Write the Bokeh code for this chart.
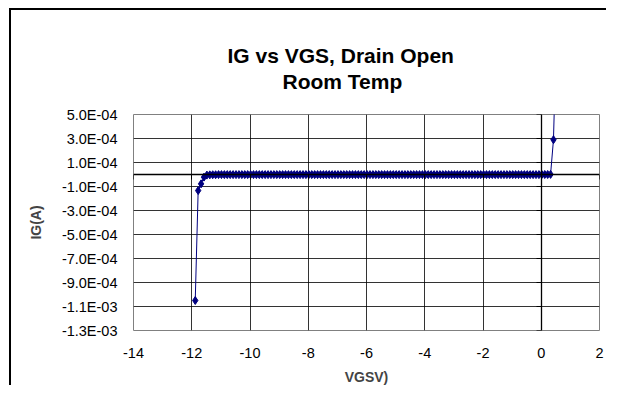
from bokeh.plotting import figure
from bokeh.models import FixedTicker, LinearAxis, Range1d, Title
from bokeh.embed import file_html
from bokeh.resources import INLINE

# ---- data ----
x_ticks = [-14, -12, -10, -8, -6, -4, -2, 0, 2]
x_tick_labels = ["-14", "-12", "-10", "-8", "-6", "-4", "-2", "0", "2"]
y_ticks = [5e-4, 3e-4, 1e-4, -1e-4, -3e-4, -5e-4, -7e-4, -9e-4, -1.1e-3, -1.3e-3]
y_tick_labels = ["5.0E-04", "3.0E-04", "1.0E-04", "-1.0E-04", "-3.0E-04",
                 "-5.0E-04", "-7.0E-04", "-9.0E-04", "-1.1E-03", "-1.3E-03"]

vgs = [
    -11.88, -11.78, -11.68, -11.58, -11.48, -11.38, -11.28, -11.18, -11.08, -10.98,
    -10.88, -10.78, -10.68, -10.58, -10.48, -10.38, -10.28, -10.18, -10.08, -9.98,
    -9.88, -9.78, -9.68, -9.58, -9.48, -9.38, -9.28, -9.18, -9.08, -8.98,
    -8.88, -8.78, -8.68, -8.58, -8.48, -8.38, -8.28, -8.18, -8.08, -7.98,
    -7.88, -7.78, -7.68, -7.58, -7.48, -7.38, -7.28, -7.18, -7.08, -6.98,
    -6.88, -6.78, -6.68, -6.58, -6.48, -6.38, -6.28, -6.18, -6.08, -5.98,
    -5.88, -5.78, -5.68, -5.58, -5.48, -5.38, -5.28, -5.18, -5.08, -4.98,
    -4.88, -4.78, -4.68, -4.58, -4.48, -4.38, -4.28, -4.18, -4.08, -3.98,
    -3.88, -3.78, -3.68, -3.58, -3.48, -3.38, -3.28, -3.18, -3.08, -2.98,
    -2.88, -2.78, -2.68, -2.58, -2.48, -2.38, -2.28, -2.18, -2.08, -1.98,
    -1.88, -1.78, -1.68, -1.58, -1.48, -1.38, -1.28, -1.18, -1.08, -0.98,
    -0.88, -0.78, -0.68, -0.58, -0.48, -0.38, -0.28, -0.18, -0.08, 0.02,
    0.12, 0.22, 0.32, 0.42, 0.52,
]
ig = [
    -1.05e-3, -1.34e-4, -7.8e-5, -2.2e-5, -5e-6, -3e-6, -2e-6, -2e-6, -1e-6, -1e-6,
    -1e-6, -1e-6, -1e-6, -1e-6, -1e-6, -1e-6, -1e-6, -1e-6, -1e-6, -1e-6,
    -1e-6, -1e-6, -1e-6, -1e-6, -1e-6, -1e-6, -1e-6, -1e-6, -1e-6, -1e-6,
    -1e-6, -1e-6, -1e-6, -1e-6, -1e-6, -1e-6, -1e-6, -1e-6, -1e-6, -1e-6,
    -1e-6, -1e-6, -1e-6, -1e-6, -1e-6, -1e-6, -1e-6, -1e-6, -1e-6, -1e-6,
    -1e-6, -1e-6, -1e-6, -1e-6, -1e-6, -1e-6, -1e-6, -1e-6, -1e-6, -1e-6,
    -1e-6, -1e-6, -1e-6, -1e-6, -1e-6, -1e-6, -1e-6, -1e-6, -1e-6, -1e-6,
    -1e-6, -1e-6, -1e-6, -1e-6, -1e-6, -1e-6, -1e-6, -1e-6, -1e-6, -1e-6,
    -1e-6, -1e-6, -1e-6, -1e-6, -1e-6, -1e-6, -1e-6, -1e-6, -1e-6, -1e-6,
    -1e-6, -1e-6, -1e-6, -1e-6, -1e-6, -1e-6, -1e-6, -1e-6, -1e-6, -1e-6,
    -1e-6, -1e-6, -1e-6, -1e-6, -1e-6, -1e-6, -1e-6, -1e-6, -1e-6, -1e-6,
    -1e-6, -1e-6, -1e-6, -1e-6, -1e-6, -1e-6, -1e-6, -1e-6, -1e-6, 0.0,
    0.0, 0.0, 1e-6, 2.9e-4, 1.2e-3,
]

title_line1 = "IG vs VGS, Drain Open"
title_line2 = "Room Temp"
x_title = "VGSV)"
y_title = "IG(A)"

FONT = "Liberation Sans"

p = figure(width=595, height=375, output_backend="svg", toolbar_location=None,
           x_range=Range1d(min(x_ticks), max(x_ticks)),
           y_range=Range1d(min(y_ticks), max(y_ticks)),
           min_border_left=122, min_border_right=9,
           min_border_top=104, min_border_bottom=56,
           background_fill_color="white", border_fill_color="white")
p.styles = {"border-left": "2px solid black", "border-top": "2px solid black",
            "margin-left": "9px", "margin-top": "8px",
            "margin-bottom": "-30px", "margin-right": "-30px",
            "box-sizing": "content-box", "overflow": "hidden"}
p.title.visible = False

p.add_layout(Title(text=title_line2, align="left", offset=149, standoff=43,
                   text_font=FONT, text_font_size="21px", text_font_style="bold",
                   text_color="black"), "above")
p.add_layout(Title(text=title_line1, align="left", offset=94, standoff=-41,
                   text_font=FONT, text_font_size="21px", text_font_style="bold",
                   text_color="black"), "above")

p.outline_line_color = "#808080"
p.outline_line_width = 1

# label axes (at frame edges)
xa = p.xaxis[0]
xa.ticker = FixedTicker(ticks=x_ticks)
xa.major_label_overrides = {t: l for t, l in zip(x_ticks, x_tick_labels)}
xa.axis_line_color = None
xa.major_tick_line_color = None
xa.minor_tick_line_color = None
xa.major_label_standoff = 11
xa.major_label_text_font = FONT
xa.major_label_text_font_size = "14.5px"
xa.major_label_text_color = "black"
xa.axis_label = x_title
xa.axis_label_text_font = FONT
xa.axis_label_text_font_size = "14px"
xa.axis_label_text_font_style = "bold"
xa.axis_label_standoff = 8

ya = p.yaxis[0]
ya.ticker = FixedTicker(ticks=y_ticks)
ya.major_label_overrides = {t: l for t, l in zip(y_ticks, y_tick_labels)}
ya.axis_line_color = None
ya.major_tick_line_color = None
ya.minor_tick_line_color = None
ya.major_label_standoff = 10
ya.major_label_text_font = FONT
ya.major_label_text_font_size = "14.5px"
ya.major_label_text_color = "black"
ya.axis_label = y_title
ya.axis_label_text_font = FONT
ya.axis_label_text_font_size = "14px"
ya.axis_label_text_font_style = "bold"
ya.axis_label_standoff = 15

# grid
p.xgrid.ticker = FixedTicker(ticks=x_ticks)
p.ygrid.ticker = FixedTicker(ticks=y_ticks)
for g in (p.xgrid[0], p.ygrid[0]):
    g.grid_line_color = "black"
    g.grid_line_width = 1
    g.grid_line_alpha = 0.8

# crossing axes at zero
x0 = LinearAxis(fixed_location=0, ticker=FixedTicker(ticks=x_ticks),
                axis_line_color="black", axis_line_width=1.3,
                major_tick_line_color="black", major_tick_out=5, major_tick_in=0,
                minor_tick_line_color=None, major_label_text_alpha=0,
                major_label_text_font_size="1px", major_label_standoff=0)
p.add_layout(x0, "below")
y0 = LinearAxis(fixed_location=0, ticker=FixedTicker(ticks=y_ticks),
                axis_line_color="black", axis_line_width=1.3,
                major_tick_line_color="black", major_tick_out=5, major_tick_in=0,
                minor_tick_line_color=None, major_label_text_alpha=0,
                major_label_text_font_size="1px", major_label_standoff=0)
p.add_layout(y0, "left")

# series
p.line(vgs, ig, line_color="#000080", line_width=1)
p.scatter(vgs, ig, marker="diamond", size=8, fill_color="#000080",
          line_color="#000080")

open("out.html", "w").write(file_html(p, INLINE))
